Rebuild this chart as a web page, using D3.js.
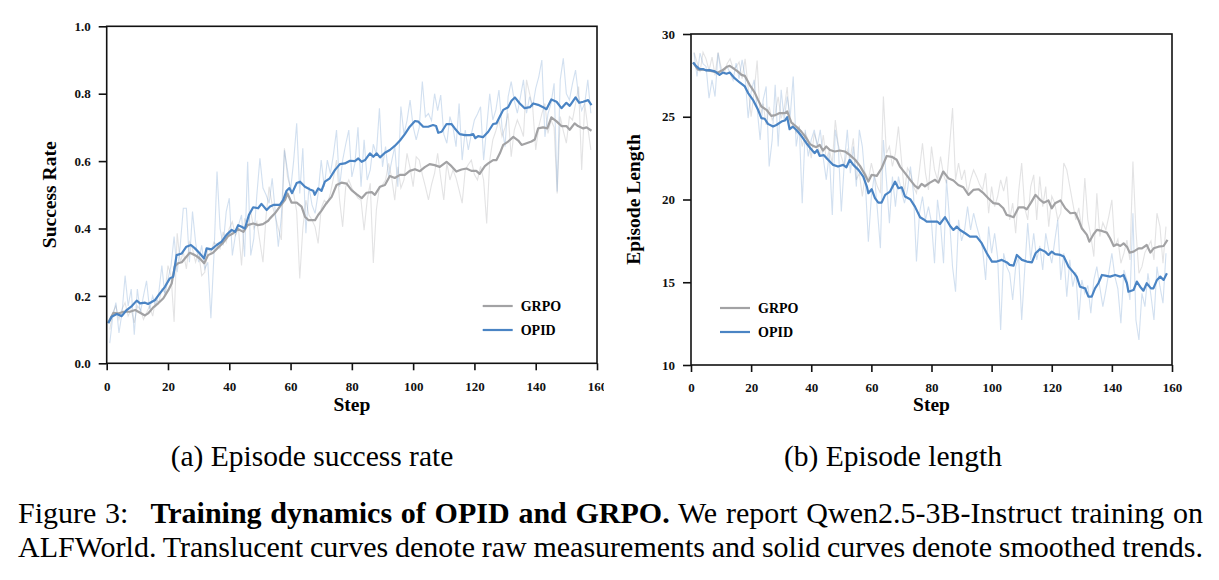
<!DOCTYPE html>
<html>
<head>
<meta charset="utf-8">
<script src="https://cdn.jsdelivr.net/npm/d3@7"></script>
<style>
  body { margin: 0; background: #fff; }
  text { font-family: "Liberation Serif", "Times New Roman", serif; }
</style>
</head>
<body>
<svg width="1219" height="580"></svg>
<script>
// ---- data ----
var rawSteps = d3.range(1, 159);
var stepTicks = [0, 20, 40, 60, 80, 100, 120, 140, 160];
var rateTicks = [0, 0.2, 0.4, 0.6, 0.8, 1.0];
var lengthTicks = [10, 15, 20, 25, 30];
var methods = ["GRPO", "OPID"];

// (a) success rate, raw per step
var rateRawOpid = [0.06,0.14,0.18,0.09,0.15,0.26,0.17,0.22,0.085,0.22,
  0.15,0.2,0.245,0.16,0.2,0.17,0.21,0.29,0.2,0.25,
  0.29,0.376,0.27,0.35,0.46,0.46,0.3,0.45,0.36,0.3,
  0.35,0.28,0.3,0.134,0.32,0.569,0.4,0.35,0.45,0.49,
  0.32,0.38,0.41,0.44,0.316,0.598,0.32,0.37,0.5,0.608,
  0.52,0.5,0.475,0.549,0.45,0.346,0.435,0.632,0.573,0.514,
  0.6,0.712,0.504,0.638,0.386,0.524,0.47,0.445,0.504,0.603,
  0.524,0.603,0.563,0.62,0.692,0.524,0.603,0.65,0.692,0.553,
  0.593,0.70,0.524,0.663,0.544,0.574,0.65,0.62,0.757,0.583,
  0.643,0.553,0.6,0.643,0.524,0.762,0.68,0.72,0.781,0.702,
  0.663,0.70,0.836,0.731,0.741,0.72,0.80,0.75,0.796,0.68,
  0.653,0.732,0.70,0.643,0.771,0.603,0.692,0.633,0.68,0.722,
  0.74,0.761,0.603,0.7,0.80,0.722,0.752,0.811,0.7,0.643,
  0.791,0.836,0.78,0.742,0.79,0.841,0.742,0.791,0.76,0.816,
  0.85,0.90,0.672,0.74,0.771,0.831,0.51,0.841,0.905,0.8,
  0.781,0.83,0.87,0.791,0.75,0.771,0.841,0.742];
var rateRawGrpo = [0.1,0.15,0.17,0.13,0.16,0.18,0.14,0.16,0.12,0.17,
  0.16,0.13,0.15,0.17,0.14,0.19,0.18,0.22,0.21,0.29,
  0.26,0.123,0.386,0.3,0.33,0.28,0.36,0.34,0.3,0.33,
  0.26,0.27,0.34,0.33,0.36,0.35,0.34,0.39,0.36,0.40,
  0.42,0.38,0.40,0.29,0.43,0.41,0.45,0.40,0.42,0.36,
  0.30,0.436,0.524,0.47,0.436,0.40,0.366,0.638,0.553,0.52,
  0.504,0.45,0.252,0.40,0.484,0.44,0.425,0.405,0.356,0.46,
  0.484,0.474,0.504,0.55,0.603,0.484,0.405,0.524,0.544,0.52,
  0.504,0.49,0.484,0.395,0.484,0.534,0.298,0.455,0.524,0.53,
  0.544,0.593,0.55,0.484,0.583,0.52,0.544,0.623,0.58,0.524,
  0.613,0.603,0.56,0.524,0.485,0.53,0.564,0.623,0.55,0.485,
  0.594,0.544,0.574,0.55,0.514,0.475,0.574,0.59,0.603,0.56,
  0.544,0.584,0.544,0.415,0.603,0.663,0.69,0.722,0.673,0.70,
  0.742,0.613,0.692,0.722,0.70,0.673,0.841,0.8,0.762,0.633,
  0.702,0.74,0.771,0.682,0.722,0.70,0.504,0.732,0.69,0.653,
  0.732,0.722,0.77,0.821,0.574,0.771,0.7,0.633];

// (a) smoothed trend, [step, value]
var rateSmoothOpid = [[0.5,0.119],[1.6,0.138],[3.3,0.146],[4.9,0.14],[6.5,0.158],[8.2,0.17],[9.8,0.186],[10.9,0.178],[12.5,0.18],[13.5,0.176],
  [15.8,0.188],[17.4,0.208],[19,0.227],[20.6,0.252],[21.7,0.257],[22.8,0.321],[24.5,0.326],[26,0.346],[27.5,0.351],[28.8,0.341],
  [30.4,0.326],[31.8,0.311],[32.6,0.341],[34.2,0.338],[35.9,0.351],[37.5,0.361],[39.1,0.381],[40.8,0.396],[41.9,0.39],[42.9,0.41],
  [44,0.405],[45.1,0.40],[46.4,0.44],[47.8,0.463],[49.4,0.46],[50.5,0.473],[52.2,0.455],[53.3,0.465],[54.4,0.47],[56.5,0.47],
  [57.6,0.485],[58.7,0.512],[59.6,0.52],[60.5,0.505],[62,0.535],[63.1,0.539],[64.7,0.524],[66.3,0.516],[67.4,0.512],[67.9,0.5],
  [69,0.519],[70.1,0.512],[71.2,0.539],[72.8,0.549],[74.5,0.574],[76.1,0.591],[77.7,0.593],[79.4,0.601],[81,0.60],[82.1,0.608],
  [83.2,0.598],[84.3,0.603],[85.9,0.623],[87,0.613],[88.1,0.623],[89.2,0.611],[90.8,0.625],[92.4,0.633],[94,0.645],[95.7,0.661],
  [97.3,0.68],[98.9,0.702],[100.6,0.719],[101.7,0.717],[103.3,0.702],[104.9,0.702],[106.5,0.707],[107.5,0.704],[108.2,0.684],[109.3,0.687],
  [110.9,0.71],[112.5,0.71],[113.6,0.697],[115.2,0.68],[116.9,0.677],[118.5,0.677],[119.6,0.68],[120.3,0.668],[121.2,0.674],[122.8,0.671],
  [124.5,0.687],[126.1,0.71],[127.2,0.712],[128.3,0.732],[129.4,0.752],[131,0.76],[132.1,0.779],[133.2,0.789],[134.8,0.771],[136.4,0.757],
  [138.1,0.76],[139.2,0.771],[140.8,0.767],[142.4,0.76],[143.5,0.754],[145.1,0.783],[146.8,0.776],[148.4,0.757],[150,0.773],[151.1,0.764],
  [153,0.789],[154.2,0.773],[155.5,0.776],[157.1,0.781],[158.2,0.766]];
var rateSmoothGrpo = [[0.5,0.12],[2.2,0.15],[3.8,0.148],[5.5,0.153],[7.6,0.153],[9.3,0.158],[10.9,0.15],[12.5,0.142],[13.5,0.148],[15.2,0.166],
  [16.8,0.178],[18.5,0.193],[20.1,0.217],[21.2,0.237],[22.2,0.287],[23.3,0.297],[24.5,0.30],[26,0.316],[27.1,0.328],[28.8,0.321],
  [30.4,0.311],[31.8,0.297],[33.1,0.321],[34.7,0.328],[36.4,0.344],[38,0.358],[39.7,0.378],[41.3,0.386],[42.9,0.398],[44.6,0.39],
  [46,0.41],[47.8,0.415],[49.4,0.41],[51,0.413],[52.7,0.423],[53.3,0.43],[54.9,0.445],[56.5,0.465],[58.2,0.485],[59,0.504],
  [60.3,0.477],[62,0.477],[63.6,0.465],[64.7,0.435],[65.8,0.425],[68,0.425],[69,0.44],[70.1,0.453],[71.7,0.475],[73.4,0.494],
  [75,0.529],[76.6,0.536],[78.3,0.533],[79.9,0.514],[81.5,0.502],[83.2,0.49],[84.8,0.506],[86.5,0.508],[87.5,0.5],[89.2,0.524],
  [90.8,0.529],[92.4,0.556],[94,0.55],[95.7,0.559],[97.3,0.559],[98.9,0.571],[100.6,0.576],[102.2,0.57],[103.8,0.582],[105.4,0.591],
  [107,0.588],[108.7,0.583],[110.9,0.598],[112.5,0.585],[114.1,0.569],[115.8,0.575],[117.4,0.578],[119,0.571],[120.6,0.571],[121.7,0.562],
  [123.4,0.585],[124.5,0.593],[126.1,0.603],[127.2,0.603],[128.3,0.623],[129.4,0.648],[131,0.658],[132.7,0.672],[134.3,0.661],[135.4,0.648],
  [137,0.653],[138.6,0.658],[139.7,0.664],[140.8,0.697],[142.4,0.70],[143.8,0.697],[145.1,0.73],[146.8,0.718],[148.4,0.704],[150,0.704],
  [151.1,0.693],[152.7,0.712],[153.8,0.704],[155.5,0.697],[156.6,0.70],[158.2,0.69]];

// (b) episode length, raw per step
var lenRawOpid = [28.85,27.43,28.85,28.2,28.04,26.12,27.23,26.22,28.85,27.64,
  27.9,28.04,27.64,27.2,28.24,27.3,28.44,27.43,24.92,26.5,
  27.23,25.5,23.6,26.02,26.83,22.0,23.6,26.93,23.2,26.63,
  24.81,26.22,25.0,27.43,23.2,24.41,19.78,24.21,22.6,23.6,
  24.21,23.2,24.21,22.5,21.19,22.8,19.07,24.21,23.2,19.27,
  22.2,24.21,21.59,23.2,20.78,24.21,23.2,21.0,17.45,20.18,
  21.5,19.37,17.06,23.6,21.19,18.57,21.38,19.57,21.38,20.5,
  19.78,20.58,21.99,20.38,16.25,19.17,20.18,18.77,19.57,18.6,
  16.15,19.98,18.57,16.15,21.19,18.77,15.94,14.43,18.77,17.5,
  18.16,19.57,18.16,19.17,18.4,17.76,17.0,15.14,18.36,16.75,
  17.96,16.5,12.12,16.75,15.94,15.54,13.93,15.94,16.5,12.72,
  15.74,18.57,16.35,17.96,16.35,17.2,15.74,17.96,16.95,16.15,
  17.5,18.77,15.14,16.75,14.13,16.35,14.73,15.6,12.72,15.14,
  14.33,14.8,13.13,15.14,15.94,14.7,13.53,14.53,15.6,16.75,
  15.34,14.6,12.52,15.74,15.14,13.93,19.17,12.72,11.51,14.33,
  13.53,15.54,14.2,12.72,15.94,14.73,13.73,16.75];
var lenRawGrpo = [28.9,28.3,27.7,28.9,28.5,27.8,28.6,27.5,28.9,28.0,
  27.6,28.2,28.5,27.9,28.0,28.3,27.3,28.5,26.8,25.0,
  26.5,28.4,25.0,25.8,24.5,25.6,24.8,25.2,26.2,24.9,
  25.5,26.8,24.2,24.6,24.0,24.4,23.2,24.0,23.6,22.5,
  24.0,23.4,22.6,23.9,22.4,23.0,22.2,24.8,23.3,22.6,
  22.0,23.0,22.5,23.7,21.19,21.59,20.18,21.6,21.19,22.2,
  21.4,20.78,20.38,26.22,22.8,23.2,22.0,22.8,24.41,22.4,
  20.38,21.9,21.59,20.78,20.38,21.79,23.4,21.59,20.58,23.2,
  21.8,21.19,22.6,21.5,20.98,23.2,25.52,21.19,22.2,21.19,
  21.79,20.38,21.2,21.79,21.38,20.9,20.58,21.59,19.17,20.78,
  19.57,20.18,21.19,20.5,21.38,18.77,19.78,17.96,20.5,22.2,
  19.5,18.77,20.78,21.49,18.77,21.38,19.57,20.78,18.36,20.2,
  19.78,18.77,19.17,22.2,21.79,20.78,19.78,18.77,19.5,18.16,
  21.29,18.77,17.8,16.55,20.38,17.76,18.6,18.16,19.0,19.98,
  17.15,17.6,16.15,16.75,17.55,16.35,22.3,18.16,15.54,15.94,
  16.8,17.15,17.5,16.35,19.17,18.36,16.15,18.36];

// (b) smoothed trend, [step, value]
var lenSmoothOpid = [[0.7,28.28],[1.8,28.04],[2.9,27.88],[4,27.88],[5.1,27.8],[6.2,27.82],[7.9,27.74],[9.5,27.53],[10.6,27.67],[11.8,27.6],
  [12.9,27.67],[14.5,27.33],[16.2,27.07],[17.9,26.83],[19,26.43],[20.6,26.02],[22.3,25.42],[23.4,24.92],[24.5,24.88],[25.6,24.57],
  [27.3,24.41],[28.4,24.5],[30.1,24.71],[31.2,24.77],[32,24.97],[32.8,24.25],[33.9,24.4],[35,24.21],[36.7,23.85],[38.4,23.4],
  [40,23.04],[41.1,22.8],[42,22.99],[42.8,22.64],[44.2,22.68],[45.6,22.4],[47.3,22.09],[48.9,21.99],[50.6,22.09],[51.7,21.95],
  [52.8,22.4],[54,22.09],[55.7,21.79],[57.3,21.38],[58.5,20.78],[59,20.38],[60.1,20.62],[61.2,20.08],[62.3,19.81],[63.4,19.81],
  [64.6,20.28],[66.2,20.48],[67.9,21.08],[69,20.68],[70.1,20.74],[71.2,20.18],[72.9,20.02],[74.5,19.57],[76.2,18.93],[77.3,18.81],
  [78.4,18.66],[80.6,18.66],[82,18.66],[82.8,18.52],[84.5,18.93],[86.2,18.4],[87.3,18.16],[88.4,18.36],[89.5,18.16],[91.2,17.96],
  [92.8,17.76],[95,17.76],[96.7,17.36],[98.4,16.75],[100.1,16.25],[101.7,16.25],[103.4,16.35],[105.1,16.2],[106,16.05],[107.3,16.0],
  [108.4,16.65],[110.1,16.35],[111.7,16.25],[113.4,16.2],[114.6,16.75],[116.1,17.0],[117.8,16.85],[118.9,16.65],[120,16.85],[121.1,16.7],
  [122.9,16.65],[124,16.55],[125.6,15.94],[127.3,15.58],[128.3,15.34],[129.4,14.73],[131.1,14.63],[132.2,14.13],[133.3,14.13],[134.4,14.63],
  [135.5,14.94],[136.7,15.44],[137.8,15.4],[139.4,15.34],[141.1,15.44],[142.8,15.34],[143.9,15.44],[145,14.94],[145.5,14.43],[147.2,14.53],
  [148.3,15.04],[149.4,14.73],[150.5,14.49],[151.6,14.94],[153,14.63],[153.8,14.63],[155,15.14],[156.1,15.34],[157.2,15.14],[158.3,15.54]];
var lenSmoothGrpo = [[0.7,28.28],[2.3,27.84],[4,27.84],[5.7,27.8],[7.3,27.74],[9,27.67],[10.6,27.82],[11.8,28.0],[12.9,28.08],[14,27.94],
  [15.5,27.74],[16.8,27.53],[17.9,27.47],[19.5,26.93],[21.2,26.46],[22.3,26.02],[23.4,25.62],[25.1,25.42],[26.7,25.05],[28.1,25.1],
  [29.5,25.22],[31.2,25.22],[32,25.32],[33.4,24.65],[35,24.41],[36.7,24.1],[38.4,23.7],[39.5,23.36],[40.6,23.24],[41.7,23.16],
  [42.8,23.3],[43.9,22.96],[45,23.2],[46.2,22.99],[47.8,22.9],[49.5,22.96],[51.2,22.9],[52.8,22.7],[54.6,22.4],[56.2,22.03],
  [57.9,21.49],[59,21.08],[60.1,21.49],[61.8,21.43],[63.4,21.89],[65.1,22.63],[66.8,22.58],[68.4,22.4],[69.5,21.99],[71.2,21.59],
  [72.9,21.19],[74.5,20.82],[75.6,20.68],[76.7,20.94],[77.8,20.8],[79.5,21.02],[81.2,21.19],[82.3,21.02],[83.9,21.69],[85.6,21.29],
  [87.3,21.15],[88.9,20.88],[90.6,20.74],[92.3,20.28],[93.9,20.58],[95.6,20.62],[97.3,20.38],[98.9,20.08],[100.6,19.78],[102.3,19.74],
  [103.9,19.47],[105,19.07],[106.2,19.0],[107.3,18.93],[109,19.53],[110.6,19.53],[111.7,19.41],[113.1,19.81],[114.6,20.28],[116.1,19.98],
  [117.3,19.81],[118.9,19.94],[120,19.47],[121.1,19.77],[122.9,19.94],[124.5,19.47],[126.2,19.17],[127.8,19.2],[128.9,18.77],[130,18.26],
  [131.7,17.86],[132.5,17.45],[133.9,17.9],[135,18.16],[136.7,18.1],[138.3,18.0],[139.4,17.66],[140.6,17.19],[141.7,17.29],[142.8,17.19],
  [143.9,17.35],[145,17.15],[145.9,16.79],[147.2,16.85],[148.9,17.05],[150,17.05],[151.6,17.25],[152.8,16.79],[153.9,17.05],[155.5,17.15],
  [157.2,17.19],[158.5,17.56]];

var colors = {GRPO: "#a2a2a4", OPID: "#4a84c4"};

var svg = d3.select("svg");

var defs = svg.append("defs");
defs.append("clipPath").attr("id", "clipA")
  .append("rect").attr("x", 0).attr("y", 0).attr("width", 604).attr("height", 430);

function panel(opt) {
  var g = svg.append("g");
  if (opt.clip) g.attr("clip-path", "url(#" + opt.clip + ")");

  var x = d3.scaleLinear().domain([0, 160]).range([opt.x0, opt.x1]);
  var y = d3.scaleLinear().domain(opt.yDomain).range([opt.y0, opt.y1]);

  var rawLine = d3.line()
    .x(function(d, i) { return x(rawSteps[i]); })
    .y(function(d) { return y(d); });
  var smoothLine = d3.line()
    .x(function(d) { return x(d[0]); })
    .y(function(d) { return y(d[1]); });

  // raw measurements (translucent)
  g.append("path").datum(opt.rawGrpo)
    .attr("d", rawLine).attr("fill", "none")
    .attr("stroke", colors.GRPO).attr("stroke-opacity", 0.3).attr("stroke-width", 1.1);
  g.append("path").datum(opt.rawOpid)
    .attr("d", rawLine).attr("fill", "none")
    .attr("stroke", colors.OPID).attr("stroke-opacity", 0.25).attr("stroke-width", 1.1);

  // smoothed trends
  g.append("path").datum(opt.smGrpo)
    .attr("d", smoothLine).attr("fill", "none")
    .attr("stroke", colors.GRPO).attr("stroke-width", 2.2).attr("stroke-linejoin", "round");
  g.append("path").datum(opt.smOpid)
    .attr("d", smoothLine).attr("fill", "none")
    .attr("stroke", colors.OPID).attr("stroke-width", 2.2).attr("stroke-linejoin", "round");

  // frame
  g.append("rect")
    .attr("x", opt.x0).attr("y", opt.y1)
    .attr("width", opt.x1 - opt.x0).attr("height", opt.y0 - opt.y1)
    .attr("fill", "none").attr("stroke", "#111").attr("stroke-width", 1.6);

  var xAxis = g.append("g")
    .attr("transform", "translate(0," + opt.y0 + ")")
    .call(d3.axisBottom(x).tickValues(stepTicks).tickSize(7).tickPadding(11));
  var yAxis = g.append("g")
    .attr("transform", "translate(" + opt.x0 + ",0)")
    .call(d3.axisLeft(y).tickValues(opt.yTicks).tickFormat(opt.fmt).tickSize(8).tickPadding(8));
  [xAxis, yAxis].forEach(function(a) {
    a.select(".domain").remove();
    a.selectAll(".tick line").attr("stroke", "#111").attr("stroke-width", 1.6);
    a.selectAll(".tick text")
      .style("font-family", '"Liberation Serif", "Times New Roman", serif')
      .style("font-weight", "bold").style("font-size", "13px").attr("fill", "#111");
  });

  g.append("text")
    .attr("x", (opt.x0 + opt.x1) / 2).attr("y", 411)
    .attr("text-anchor", "middle")
    .style("font-weight", "bold").style("font-size", "19.5px")
    .text("Step");

  g.append("text")
    .attr("transform", "translate(" + opt.yLabelX + "," + (opt.y0 + opt.y1) / 2 + ") rotate(-90)")
    .attr("text-anchor", "middle")
    .style("font-weight", "bold").style("font-size", "19.5px")
    .text(opt.yLabel);

  // legend
  methods.forEach(function(m, i) {
    var ly = opt.legY + i * 24;
    g.append("line")
      .attr("x1", opt.legX).attr("x2", opt.legX + 30)
      .attr("y1", ly).attr("y2", ly)
      .attr("stroke", colors[m]).attr("stroke-width", 2.2);
    g.append("text")
      .attr("x", opt.legX + 38).attr("y", ly).attr("dy", "0.35em")
      .style("font-weight", "bold").style("font-size", "14px")
      .text(m);
  });
}

panel({
  clip: "clipA",
  x0: 106.7, x1: 597, y0: 363.3, y1: 26.3,
  yDomain: [0, 1], yTicks: rateTicks, fmt: d3.format(".1f"),
  yLabel: "Success Rate", yLabelX: 55.5,
  rawOpid: rateRawOpid, rawGrpo: rateRawGrpo,
  smOpid: rateSmoothOpid, smGrpo: rateSmoothGrpo,
  legX: 482.7, legY: 306
});

panel({
  x0: 691, x1: 1172, y0: 365, y1: 34,
  yDomain: [10, 30], yTicks: lengthTicks, fmt: d3.format("d"),
  yLabel: "Episode Length", yLabelX: 639.5,
  rawOpid: lenRawOpid, rawGrpo: lenRawGrpo,
  smOpid: lenSmoothOpid, smGrpo: lenSmoothGrpo,
  legX: 720, legY: 308
});

// sub-captions
svg.append("text").attr("x", 312).attr("y", 466).attr("text-anchor", "middle")
  .style("font-size", "29.5px").text("(a) Episode success rate");
svg.append("text").attr("x", 893).attr("y", 466).attr("text-anchor", "middle")
  .style("font-size", "29.5px").text("(b) Episode length");

// figure caption, justified between x=18 and x=1203
var cap1 = svg.append("text").attr("x", 18).attr("y", 523).style("font-size", "30px");
cap1.append("tspan").text("Figure 3:");
cap1.append("tspan").attr("dx", 22).style("font-weight", "bold").text("Training dynamics of OPID and GRPO.");
cap1.append("tspan").text(" We report Qwen2.5-3B-Instruct training on");

var cap2 = svg.append("text").attr("x", 18).attr("y", 557).style("font-size", "30px")
  .text("ALFWorld. Translucent curves denote raw measurements and solid curves denote smoothed trends.");

[cap1, cap2].forEach(function(c) {
  var n = c.text().split(" ").length - 1;
  var w = c.node().getBBox().width;
  c.style("word-spacing", ((1185 - w) / n) + "px");
});
</script>
</body>
</html>
